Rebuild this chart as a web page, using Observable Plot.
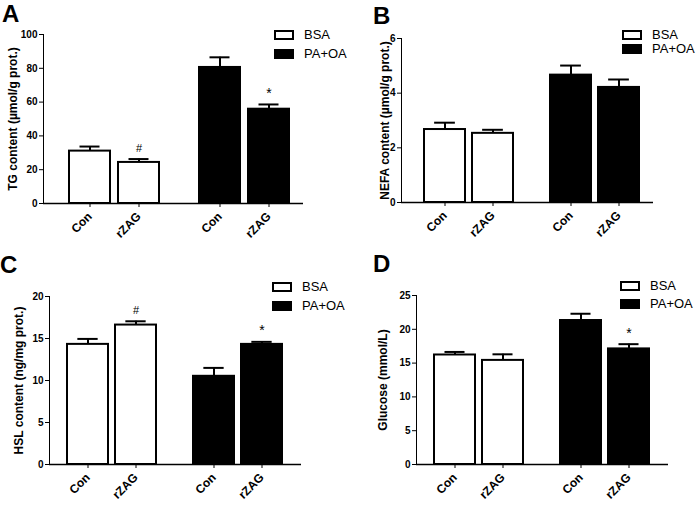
<!DOCTYPE html>
<html><head><meta charset="utf-8">
<script src="https://cdn.jsdelivr.net/npm/d3@7"></script>
<script src="https://cdn.jsdelivr.net/npm/@observablehq/plot@0.6"></script>
<style>
body{margin:0;background:#fff;}
#fig{position:relative;width:697px;height:506px;font-family:Arial,"Liberation Sans",sans-serif;color:#000;overflow:hidden;}
.panel{position:absolute;}
.panel svg{position:absolute;left:0;top:0;}
.letter{position:absolute;font-weight:bold;font-size:24px;line-height:24px;}
.lg{position:absolute;display:flex;align-items:center;font-size:13px;line-height:13px;}
.lg .box{width:16px;height:6px;border:2px solid #000;margin-right:10px;}
</style>
</head><body>
<div id="fig"></div>
<script>
// ---- data ----
const groups = ["BSA", "PA+OA"];
const treatments = ["Con", "rZAG"];
const groupFill = ["white", "black"];

const tgMean = [31.0, 24.3, 80.5, 55.8];
const tgSem = [2.7, 2.0, 6.0, 2.8];
const tgNote = ["", "#", "", "*"];

const nefaMean = [2.67, 2.53, 4.66, 4.21];
const nefaSem = [0.25, 0.13, 0.35, 0.29];
const nefaNote = ["", "", "", ""];

const hslMean = [14.3, 16.6, 10.5, 14.3];
const hslSem = [0.65, 0.45, 1.0, 0.3];
const hslNote = ["", "#", "", "*"];

const gluMean = [16.2, 15.4, 21.3, 17.1];
const gluSem = [0.45, 0.9, 1.0, 0.7];
const gluNote = ["", "", "", "*"];

const tgTicks = [0, 20, 40, 60, 80, 100];
const nefaTicks = [0, 2, 4, 6];
const hslTicks = [0, 5, 10, 15, 20];
const gluTicks = [0, 5, 10, 15, 20, 25];

const panels = [
  {letter: "A", label: "TG content (µmol/g prot.)", mean: tgMean, sem: tgSem, note: tgNote, ticks: tgTicks,
   left: 0, top: 0, width: 348, mL: 42, mR: 45, mT: 34, mB: 50, pi: 0.16, po: 0.385, align: 0.65, labC: 12.5,
   lgX: 274, lgY: 29, lgP: 19, ltX: 2, ltY: 2},
  {letter: "B", label: "NEFA content (µmol/g prot.)", mean: nefaMean, sem: nefaSem, note: nefaNote, ticks: nefaTicks,
   left: 348, top: 0, width: 349, mL: 53, mR: 44, mT: 38, mB: 51, pi: 0.156, po: 0.39, align: 0.61, labC: 37.5,
   lgX: 274, lgY: 29, lgP: 14, ltX: 25, ltY: 4},
  {letter: "C", label: "HSL content (ng/mg prot.)", mean: hslMean, sem: hslSem, note: hslNote, ticks: hslTicks,
   left: 0, top: 253, width: 348, mL: 48, mR: 47, mT: 43, mB: 42, pi: 0.144, po: 0.38, align: 0.5, labC: 19,
   lgX: 272, lgY: 28, lgP: 19, ltX: 0, ltY: 0},
  {letter: "D", label: "Glucose (mmol/L)", mean: gluMean, sem: gluSem, note: gluNote, ticks: gluTicks,
   left: 348, top: 253, width: 349, mL: 67, mR: 29, mT: 42, mB: 42, pi: 0.143, po: 0.364, align: 0.49, labC: 35,
   lgX: 272, lgY: 27, lgP: 18, ltX: 25, ltY: -1}
];

const fig = document.getElementById("fig");

for (const p of panels) {
  const rows = [];
  groups.forEach((g, i) => treatments.forEach((t, j) => {
    const k = i * 2 + j;
    rows.push({group: g, treat: t, mean: p.mean[k], top: p.mean[k] + p.sem[k], note: p.note[k], fill: groupFill[i]});
  }));
  const facetW = (p.width - p.mL - p.mR) / 2;
  const step = facetW / (2 - p.pi + 2 * p.po);
  const bw = step * (1 - p.pi);
  const chart = Plot.plot({
    width: p.width, height: 253,
    marginLeft: p.mL, marginRight: p.mR, marginTop: p.mT, marginBottom: p.mB,
    style: {fontFamily: "Arial, 'Liberation Sans', sans-serif", fontSize: "10px", fontWeight: "bold", color: "black", background: "transparent"},
    facet: {data: rows, x: "group"},
    fx: {domain: groups, padding: 0, axis: null, label: null},
    x: {domain: treatments, paddingInner: p.pi, paddingOuter: p.po, align: p.align, label: null},
    y: {domain: [p.ticks[0], p.ticks[p.ticks.length - 1]], ticks: p.ticks, tickFormat: d3.format("d"), tickSize: 4, tickPadding: 2,
        label: p.label, labelAnchor: "center", labelArrow: false, labelOffset: p.mL - p.labC + 6, line: true},
    marks: [
      Plot.axisX({tickRotate: -45, tickSize: 4, tickPadding: 7, fontSize: 12, fontWeight: "bold", label: null}),
      Plot.barY(rows, {x: "treat", y: "mean", fill: "fill", stroke: "black", strokeWidth: 2}),
      Plot.ruleX(rows, {x: "treat", y1: "mean", y2: "top", stroke: "black", strokeWidth: 2}),
      Plot.tickY(rows, {x: "treat", y: "top", stroke: "black", strokeWidth: 2, insetLeft: bw / 4, insetRight: bw / 4}),
      Plot.ruleY([0], {stroke: "black", strokeWidth: 1.5}),
      Plot.text(rows, {x: "treat", y: "top", text: "note", dy: -11, fontSize: d => d.note === "*" ? 14 : 11,
                       fontWeight: "normal", fill: "black"})
    ]
  });
  // y-axis title slightly larger than tick labels
  d3.select(chart).selectAll('g[aria-label="y-axis label"] text').attr("font-size", 12);
  const div = document.createElement("div");
  div.className = "panel";
  div.style.left = p.left + "px"; div.style.top = p.top + "px";
  div.style.width = p.width + "px"; div.style.height = "253px";
  div.appendChild(chart);
  const lt = document.createElement("div");
  lt.className = "letter"; lt.textContent = p.letter;
  lt.style.left = p.ltX + "px"; lt.style.top = p.ltY + "px";
  div.appendChild(lt);
  groups.forEach((g, i) => {
    const r = document.createElement("div");
    r.className = "lg";
    r.style.left = p.lgX + "px"; r.style.top = (p.lgY + i * p.lgP - 1) + "px";
    const b = document.createElement("span");
    b.className = "box"; b.style.background = groupFill[i];
    r.appendChild(b);
    r.appendChild(document.createTextNode(g));
    div.appendChild(r);
  });
  fig.appendChild(div);
}
</script>
</body></html>
